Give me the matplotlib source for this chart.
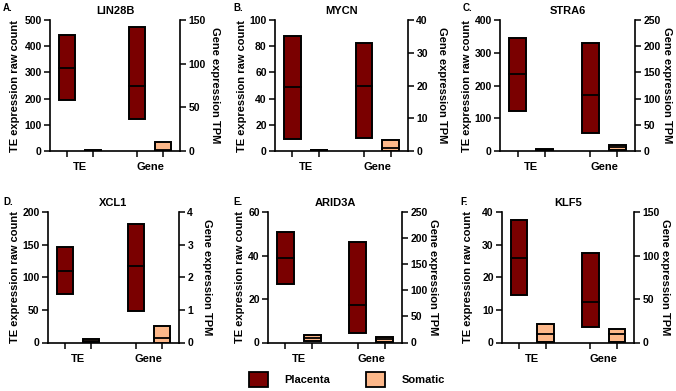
import numpy as np
import matplotlib
matplotlib.use("Agg")
import matplotlib.pyplot as plt
from matplotlib.patches import Patch

plt.rcParams['font.family'] = ['Liberation Sans', 'DejaVu Sans']
plt.rcParams['font.weight'] = 'bold'
plt.rcParams['axes.titleweight'] = 'bold'
plt.rcParams['axes.labelweight'] = 'bold'

# gene panels
genes = ["LIN28B", "MYCN", "STRA6", "XCL1", "ARID3A", "KLF5"]
letters = ["A.", "B.", "C.", "D.", "E.", "F."]
groups = ["TE", "Gene"]
tissues = ["Placenta", "Somatic"]

# floating bars: (min, median, max)
te_placenta = [(193, 317, 442), (9.5, 49, 88), (122, 234, 346),
               (74, 110, 147), (27, 39, 51), (14.6, 26, 37.7)]
te_somatic = [(0, 1.5, 4), (0, 0.4, 0.8), (1, 4, 7),
              (0.5, 3, 6), (0.5, 1.9, 3.6), (0.3, 2.5, 5.8)]
gene_placenta = [(37, 75, 142), (3.9, 20, 33), (35, 107, 207),
                 (0.97, 2.36, 3.62), (19, 72, 193), (18, 47, 103)]
gene_somatic = [(0, 1.5, 10.6), (0, 1.0, 3.4), (2, 7, 11.5),
                (0, 0.15, 0.52), (1, 6, 11), (0.5, 9.5, 15)]

# axis limits and ticks
te_max = [500, 100, 400, 200, 60, 40]
te_step = [100, 20, 100, 50, 20, 10]
tpm_max = [150, 40, 250, 4, 250, 150]
tpm_step = [50, 10, 50, 1, 50, 50]

col_placenta = "#7a0000"
col_somatic = "#fdb88a"

W, H = 676, 391
fig = plt.figure(figsize=(W / 100, H / 100), dpi=100)

# axes boxes in pixels: left, right, top, bottom
boxes = [(50, 180, 20, 151), (275, 408, 20, 151), (500, 635, 20, 151),
         (48, 179, 212, 342.5), (268, 402, 212, 342.5), (502, 634, 212, 342.5)]
letter_pos = [(3, 8), (233, 8), (463, 8), (3, 202), (233, 202), (460, 202)]
# label centres (px) for left / right y labels
left_lab_x = [15, 242, 467, 15, 240, 468]
right_lab_x = [215, 442, 667, 207, 433, 665]

pos = [0, 1, 2.7, 3.7]
bw = 0.62


def fbar(ax, x, vals, color):
    lo, med, hi = vals
    ax.bar(x, hi - lo, bottom=lo, width=bw, color=color,
           edgecolor="black", linewidth=1.4, zorder=3)
    ax.plot([x - bw / 2, x + bw / 2], [med, med], color="black", lw=1.3, zorder=4)


for i in range(6):
    l, r, t, b = boxes[i]
    ax = fig.add_axes([l / W, 1 - b / H, (r - l) / W, (b - t) / H])
    ax2 = ax.twinx()

    fbar(ax, pos[0], te_placenta[i], col_placenta)
    fbar(ax, pos[1], te_somatic[i], col_somatic)
    fbar(ax2, pos[2], gene_placenta[i], col_placenta)
    fbar(ax2, pos[3], gene_somatic[i], col_somatic)

    ax.set_xlim(-0.65, 4.35)
    ax.set_ylim(0, te_max[i])
    ax2.set_ylim(0, tpm_max[i])
    ax.set_yticks(np.arange(0, te_max[i] + 1e-9, te_step[i]))
    ax2.set_yticks(np.arange(0, tpm_max[i] + 1e-9, tpm_step[i]))

    ax.set_xticks(pos)
    ax.set_xticklabels([])
    ax.set_xticks([0.5, 3.2], minor=True)
    ax.set_xticklabels(groups, minor=True)
    ax.tick_params(axis="x", which="minor", length=0, pad=8, labelsize=8)
    ax.tick_params(axis="x", which="major", length=4, width=1.1)
    ax.tick_params(axis="y", length=4, width=1.1, labelsize=7.5, pad=2)
    ax2.tick_params(axis="y", length=4, width=1.1, labelsize=7.5, pad=2)
    for lab in (ax.get_xticklabels(minor=True) + ax.get_yticklabels()
                + ax2.get_yticklabels()):
        lab.set_fontweight("bold")

    for s in ["top", "right"]:
        ax.spines[s].set_visible(False)
    for s in ["top", "left", "bottom"]:
        ax2.spines[s].set_visible(False)
    for s in ["left", "bottom"]:
        ax.spines[s].set_linewidth(1.2)
    ax2.spines["right"].set_linewidth(1.2)

    ax.set_ylabel("TE expression raw count", fontsize=8, fontweight="bold",
                  va="center")
    ax.yaxis.set_label_coords((left_lab_x[i] - l) / (r - l), 0.5)
    ax2.set_ylabel("Gene expression TPM", fontsize=8, fontweight="bold",
                   rotation=270, va="center")
    ax2.yaxis.set_label_coords((right_lab_x[i] - l) / (r - l), 0.5)
    ax.set_title(genes[i], fontsize=8, fontweight="bold", pad=4)

    lx, ly = letter_pos[i]
    fig.text(lx / W, 1 - ly / H, letters[i], fontsize=7, fontweight="bold",
             va="center", ha="left")

handles = [Patch(facecolor=col_placenta, edgecolor="black", linewidth=1.3),
           Patch(facecolor=col_somatic, edgecolor="black", linewidth=1.3)]
leg = fig.legend(handles, tissues, loc="center", bbox_to_anchor=(347 / W, 1 - 379 / H),
                 ncol=2, frameon=False, handlelength=1.7, handleheight=1.7,
                 handletextpad=1.5, columnspacing=3.2,
                 prop={"weight": "bold", "size": 8})

fig.savefig("out.png", dpi=100)
